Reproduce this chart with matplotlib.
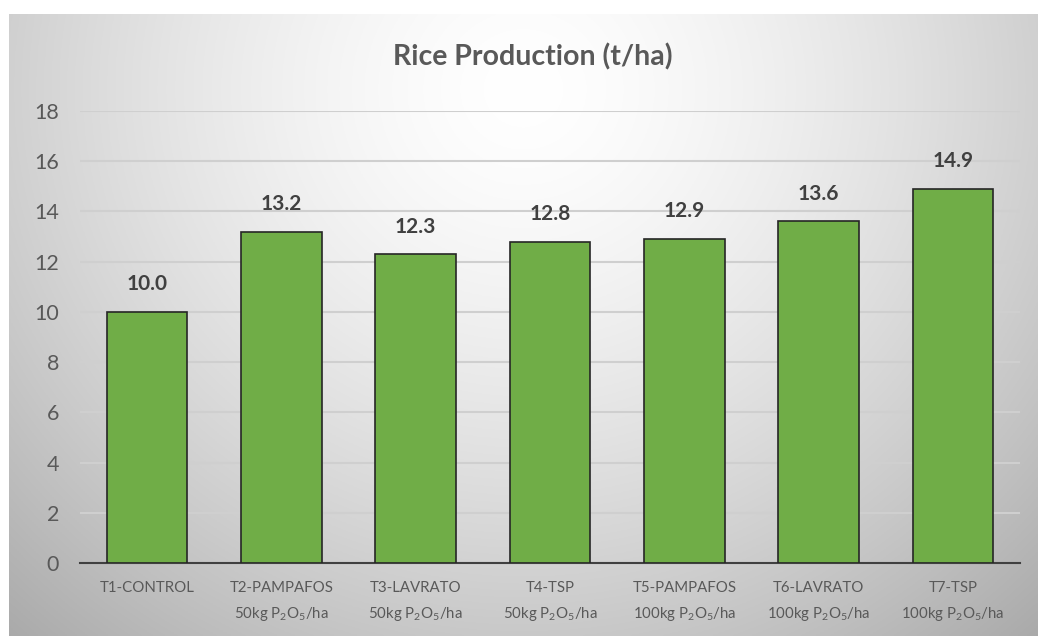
import numpy as np
import matplotlib
matplotlib.use('Agg')
import matplotlib.pyplot as plt

plt.rcParams['font.family'] = ['Lato', 'DejaVu Sans']
plt.rcParams['mathtext.fontset'] = 'custom'
plt.rcParams['mathtext.rm'] = 'Lato'

treatments = ['T1-CONTROL', 'T2-PAMPAFOS', 'T3-LAVRATO', 'T4-TSP',
              'T5-PAMPAFOS', 'T6-LAVRATO', 'T7-TSP']
doses = ['', '50kg', '50kg', '50kg', '100kg', '100kg', '100kg']
production = [10.0, 13.2, 12.3, 12.8, 12.9, 13.6, 14.9]

labels = []
for t, d in zip(treatments, doses):
    if d:
        labels.append(t + '\n' + d + r' P$_\mathregular{2}$O$_\mathregular{5}$/ha')
    else:
        labels.append(t + '\n ')

fig = plt.figure(figsize=(10.38, 6.36), dpi=100)

# background panel with radial grey gradient
bg = fig.add_axes([9 / 1038, 0, 1 - 9 / 1038, 1 - 14 / 636])
bg.set_axis_off()
yy, xx = np.mgrid[0:1:300j, 0:1:500j]
r = np.sqrt(((xx - 0.5) / 0.6) ** 2 + ((yy - 0.12) / 0.95) ** 2)
shade = 1.0 - 0.24 * np.clip(r, 0, 1.25) ** 1.5
bg.imshow(np.dstack([shade] * 3), aspect='auto', extent=[0, 1, 0, 1], origin='upper')

ax = fig.add_axes([80 / 1038, 1 - 563 / 636, 940 / 1038, (563 - 111) / 636])
ax.patch.set_alpha(0)
x = np.arange(len(production))
bars = ax.bar(x, production, width=0.6, color='#70AD47', edgecolor='#262626',
              linewidth=1.2, zorder=3)
for xi, v in zip(x, production):
    ax.text(xi, v + 0.7, f'{v:.1f}', ha='center', va='bottom',
            fontsize=15, fontweight='bold', color='#404040')

ax.set_xlim(-0.5, 6.5)
ax.set_ylim(0, 18)
ax.set_yticks(range(0, 19, 2))
ax.yaxis.grid(True, color='#cfcfcf', linewidth=1.5, zorder=0)
ax.set_axisbelow(True)
for s in ['top', 'right', 'left']:
    ax.spines[s].set_visible(False)
ax.spines['bottom'].set_color('#404040')
ax.spines['bottom'].set_linewidth(1.5)
ax.tick_params(axis='y', length=0, labelsize=15.5, labelcolor='#595959', pad=15)
ax.tick_params(axis='x', length=0, labelsize=10.8, labelcolor='#595959', pad=13)
ax.set_xticks(x)
ax.set_xticklabels(labels, linespacing=1.8)

fig.text(533 / 1038, 1 - 57 / 636, 'Rice Production (t/ha)', ha='center', va='center',
         fontsize=20.5, fontweight='bold', color='#595959')

fig.savefig('out.png', dpi=100)
